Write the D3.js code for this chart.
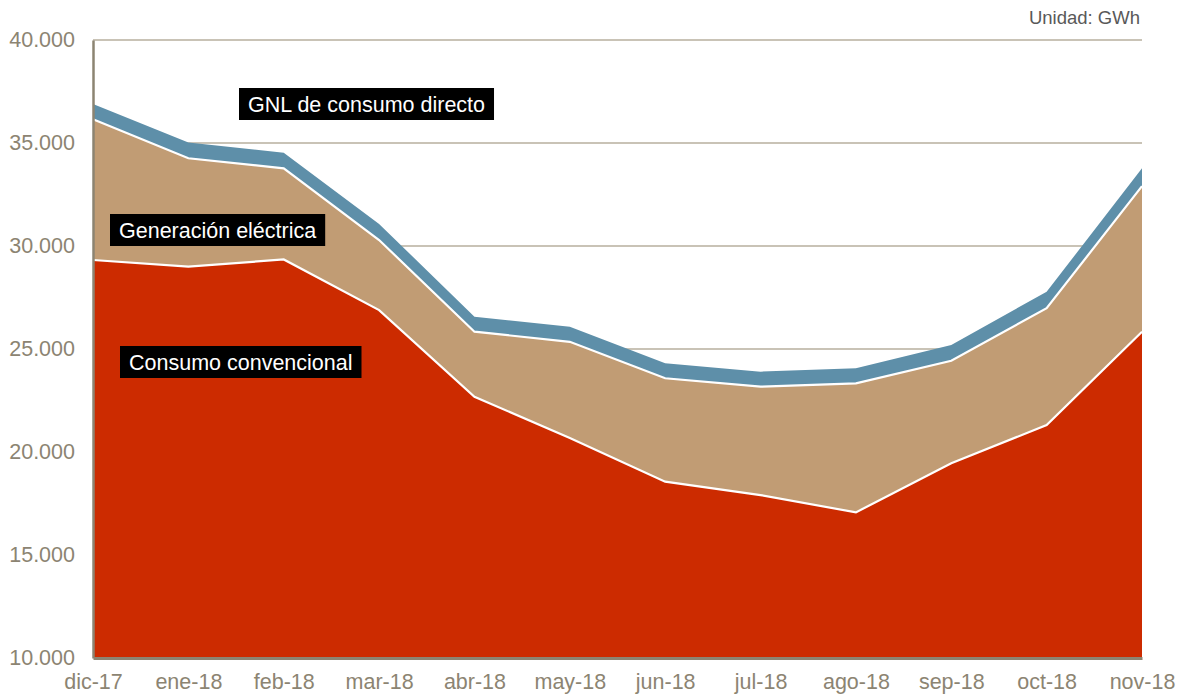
<!DOCTYPE html>
<html>
<head>
<meta charset="utf-8">
<script src="https://cdn.jsdelivr.net/npm/d3@7"></script>
<style>
  html, body { margin: 0; padding: 0; background: #fff; }
  svg { display: block; font-family: "Liberation Sans", Arial, sans-serif; }
</style>
</head>
<body>
<svg id="chart" width="1184" height="695"></svg>
<script>
// Monthly natural gas demand, GWh
const months = ["dic-17","ene-18","feb-18","mar-18","abr-18","may-18","jun-18","jul-18","ago-18","sep-18","oct-18","nov-18"];
const consumoConvencional = [29320, 29000, 29345, 26890, 22680, 20680, 18560, 17910, 17070, 19450, 21310, 25840];
const generacionElectrica = [6830, 5260, 4425, 3400, 3160, 4670, 5020, 5260, 6260, 4980, 5670, 7070];
const gnlConsumoDirecto   = [740, 770, 760, 780, 730, 730, 730, 730, 730, 760, 800, 860];
const yTicks = [10000, 15000, 20000, 25000, 30000, 35000, 40000];

const seriesKeys = ["conv", "gen", "gnl"];
const seriesColors = { conv: "#CC2B00", gen: "#C19C74", gnl: "#5E8FA9" };
const seriesLabels = [
  { key: "gnl",  text: "GNL de consumo directo", x: 239, y: 88 },
  { key: "gen",  text: "Generación eléctrica",   x: 110, y: 214 },
  { key: "conv", text: "Consumo convencional",   x: 120, y: 346 }
];

const rows = months.map((m, i) => ({
  month: m,
  conv: consumoConvencional[i],
  gen: generacionElectrica[i],
  gnl: gnlConsumoDirecto[i]
}));

const svg = d3.select("#chart");
const margin = { left: 93, right: 42, top: 40, bottom: 37 };
const W = 1184, H = 695;
const tickFont = 21.5;

const x = d3.scalePoint().domain(months).range([margin.left, W - margin.right]);
const y = d3.scaleLinear().domain([10000, 40000]).range([H - margin.bottom, margin.top]);

// gridlines
svg.append("g")
  .selectAll("line")
  .data(yTicks.filter(t => t > 10000))
  .join("line")
  .attr("x1", margin.left).attr("x2", W - margin.right)
  .attr("y1", d => y(d)).attr("y2", d => y(d))
  .attr("stroke", "#C9C3B6").attr("stroke-width", 2);

const stacked = d3.stack().keys(seriesKeys)(rows);

const area = d3.area()
  .x(d => x(d.data.month))
  .y0(d => y(Math.max(d[0], 10000)))
  .y1(d => y(d[1]));

svg.append("g")
  .selectAll("path")
  .data(stacked)
  .join("path")
  .attr("d", area)
  .attr("fill", d => seriesColors[d.key]);

// white separators along the tops of the two lower layers
const topLine = d3.line().x(d => x(d.data.month)).y(d => y(d[1]));
svg.append("g")
  .selectAll("path")
  .data(stacked.slice(0, 2))
  .join("path")
  .attr("d", topLine)
  .attr("fill", "none")
  .attr("stroke", "#fff")
  .attr("stroke-width", 2.2)
  .attr("stroke-linejoin", "miter");

// axes
const axisColor = "#8C8472";
const yAxis = svg.append("g")
  .attr("transform", `translate(${margin.left},0)`)
  .call(d3.axisLeft(y).tickValues(yTicks).tickSize(0).tickPadding(18)
    .tickFormat(d => d3.format(",")(d).replace(/,/g, ".")));
yAxis.attr("font-size", tickFont).attr("font-family", "'Liberation Sans', Arial, sans-serif");
yAxis.select(".domain").attr("stroke", axisColor).attr("stroke-width", 2.5);
yAxis.selectAll("text").attr("fill", axisColor);

const xAxis = svg.append("g")
  .attr("transform", `translate(0,${H - margin.bottom})`)
  .call(d3.axisBottom(x).tickSize(0).tickPadding(18));
xAxis.attr("font-size", tickFont).attr("font-family", "'Liberation Sans', Arial, sans-serif");
xAxis.select(".domain").attr("stroke", axisColor).attr("stroke-width", 3);
xAxis.selectAll("text").attr("fill", axisColor).attr("dy", "0.6em");

// unit note
svg.append("text")
  .attr("x", W - margin.right - 2).attr("y", 24)
  .attr("text-anchor", "end")
  .attr("fill", "#595959")
  .attr("font-size", 18.5)
  .text("Unidad: GWh");

// series labels on black boxes
const lab = svg.append("g").selectAll("g").data(seriesLabels).join("g")
  .attr("transform", d => `translate(${d.x},${d.y})`);
lab.append("text")
  .attr("x", 9).attr("y", 24)
  .attr("fill", "#fff")
  .attr("font-size", 21.5)
  .text(d => d.text);
lab.insert("rect", "text")
  .attr("x", 0).attr("y", 0)
  .attr("height", 32)
  .attr("width", function() {
    const t = this.parentNode.querySelector("text");
    return t.getComputedTextLength() + 18;
  })
  .attr("fill", "#000");
</script>
</body>
</html>
